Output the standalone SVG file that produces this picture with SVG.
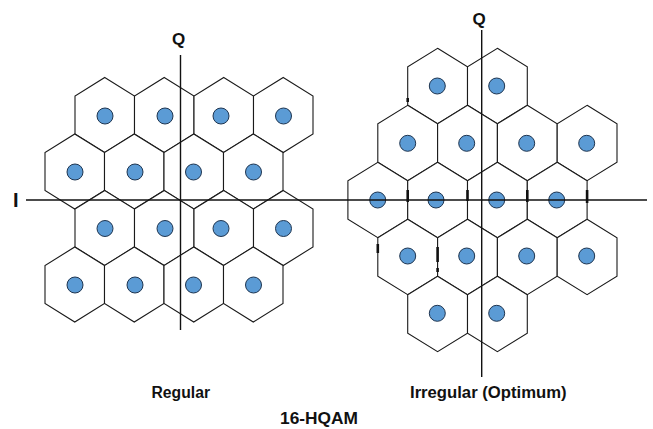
<svg xmlns="http://www.w3.org/2000/svg" xmlns:xlink="http://www.w3.org/1999/xlink" width="653" height="429" viewBox="0 0 653 429">
<style>
.hex{fill:#ffffff;stroke:#1a1a1a;stroke-width:1.1}
.dot{fill:#5B9BD5;stroke:#1f3550;stroke-width:1}
.axis{stroke:#111;stroke-width:1.4;fill:none}
.mark{stroke:#111;stroke-width:2.6;fill:none}
.lbl{font-family:"Liberation Sans",Arial,sans-serif;font-weight:bold;fill:#111}
</style>
<defs>
<path id="hexL" class="hex" d="M0,-37.5 L29.75,-19 L29.75,19 L0,37.5 L-29.75,19 L-29.75,-19 Z"/>
<path id="hexR" class="hex" d="M0,-37.7 L29.9,-19.2 L29.9,19.2 L0,37.7 L-29.9,19.2 L-29.9,-19.2 Z"/>
<circle id="dot" class="dot" r="8"/>
</defs>
<rect width="653" height="429" fill="#ffffff"/>

<g id="regular">
<g id="L11"><use href="#hexL" x="104.75" y="115"/><use href="#dot" x="105" y="116"/></g>
<g id="L12"><use href="#hexL" x="164.25" y="115"/><use href="#dot" x="165" y="116"/></g>
<g id="L13"><use href="#hexL" x="223.75" y="115"/><use href="#dot" x="221" y="116"/></g>
<g id="L14"><use href="#hexL" x="283.25" y="115"/><use href="#dot" x="283.5" y="116"/></g>
<g id="L21"><use href="#hexL" x="74.75" y="171.5"/><use href="#dot" x="75" y="172"/></g>
<g id="L22"><use href="#hexL" x="134.25" y="171.5"/><use href="#dot" x="135" y="172"/></g>
<g id="L23"><use href="#hexL" x="193.75" y="171.5"/><use href="#dot" x="193.5" y="172"/></g>
<g id="L24"><use href="#hexL" x="253.25" y="171.5"/><use href="#dot" x="253.5" y="172"/></g>
<g id="L31"><use href="#hexL" x="104.75" y="228"/><use href="#dot" x="105" y="228.5"/></g>
<g id="L32"><use href="#hexL" x="164.25" y="228"/><use href="#dot" x="165" y="228.5"/></g>
<g id="L33"><use href="#hexL" x="223.75" y="228"/><use href="#dot" x="221" y="228.5"/></g>
<g id="L34"><use href="#hexL" x="283.25" y="228"/><use href="#dot" x="283.5" y="228.5"/></g>
<g id="L41"><use href="#hexL" x="74.75" y="284.5"/><use href="#dot" x="75" y="285"/></g>
<g id="L42"><use href="#hexL" x="134.25" y="284.5"/><use href="#dot" x="135" y="285"/></g>
<g id="L43"><use href="#hexL" x="193.75" y="284.5"/><use href="#dot" x="193.5" y="285"/></g>
<g id="L44"><use href="#hexL" x="253.25" y="284.5"/><use href="#dot" x="253.5" y="285"/></g>
</g>

<g id="irregular">
<g id="RA1"><use href="#hexR" x="437.6" y="86"/><use href="#dot" x="437.3" y="86"/></g>
<g id="RA2"><use href="#hexR" x="497.4" y="86"/><use href="#dot" x="496.7" y="86"/></g>
<g id="RB1"><use href="#hexR" x="407.7" y="143"/><use href="#dot" x="407.7" y="143.3"/></g>
<g id="RB2"><use href="#hexR" x="467.5" y="143"/><use href="#dot" x="466.7" y="143.3"/></g>
<g id="RB3"><use href="#hexR" x="527.3" y="143"/><use href="#dot" x="526.7" y="143.3"/></g>
<g id="RB4"><use href="#hexR" x="587.1" y="143"/><use href="#dot" x="586.7" y="143.3"/></g>
<g id="RC1"><use href="#hexR" x="377.8" y="200"/><use href="#dot" x="377.7" y="200"/></g>
<g id="RC2"><use href="#hexR" x="437.6" y="200"/><use href="#dot" x="436" y="200"/></g>
<g id="RC3"><use href="#hexR" x="497.4" y="200"/><use href="#dot" x="496.7" y="200"/></g>
<g id="RC4"><use href="#hexR" x="557.2" y="200"/><use href="#dot" x="556.7" y="200"/></g>
<g id="RD1"><use href="#hexR" x="407.7" y="257"/><use href="#dot" x="407.7" y="256"/></g>
<g id="RD2"><use href="#hexR" x="467.5" y="257"/><use href="#dot" x="466.7" y="256"/></g>
<g id="RD3"><use href="#hexR" x="527.3" y="257"/><use href="#dot" x="526.7" y="256"/></g>
<g id="RD4"><use href="#hexR" x="587.1" y="257"/><use href="#dot" x="586.7" y="256"/></g>
<g id="RE1"><use href="#hexR" x="437.6" y="314"/><use href="#dot" x="437.3" y="313.3"/></g>
<g id="RE2"><use href="#hexR" x="497.4" y="314"/><use href="#dot" x="496.7" y="313.3"/></g>
<g id="marks">
<line class="mark" x1="407.7" y1="190" x2="407.7" y2="202"/>
<line class="mark" x1="467.5" y1="190" x2="467.5" y2="201"/>
<line class="mark" x1="527.3" y1="190" x2="527.3" y2="202"/>
<line class="mark" x1="587.1" y1="190" x2="587.1" y2="203"/>
<line class="mark" x1="377.8" y1="244" x2="377.8" y2="253"/>
<line class="mark" x1="437.6" y1="247" x2="437.6" y2="262"/>
<line class="mark" x1="437.6" y1="268" x2="437.6" y2="272"/>
<line class="mark" x1="407.7" y1="98" x2="407.7" y2="102"/>
</g>
</g>

<g id="connectors">
<line class="axis" x1="26" y1="200" x2="647" y2="200"/>
<line class="axis" x1="180.5" y1="55" x2="180.5" y2="330"/>
<line class="axis" x1="481.7" y1="30" x2="481.7" y2="377"/>
</g>

<g id="labels">
<text class="lbl" x="15.8" y="206.5" font-size="20" text-anchor="middle">I</text>
<text class="lbl" x="178.5" y="45" font-size="17" text-anchor="middle">Q</text>
<text class="lbl" x="479" y="25" font-size="17" text-anchor="middle">Q</text>
<text class="lbl" x="151.5" y="397.5" font-size="16" textLength="58.5" lengthAdjust="spacingAndGlyphs">Regular</text>
<text class="lbl" x="410" y="397.5" font-size="16" textLength="156.5" lengthAdjust="spacingAndGlyphs">Irregular (Optimum)</text>
<text class="lbl" x="280" y="424.3" font-size="16.5" textLength="78" lengthAdjust="spacingAndGlyphs">16-HQAM</text>
</g>
</svg>
